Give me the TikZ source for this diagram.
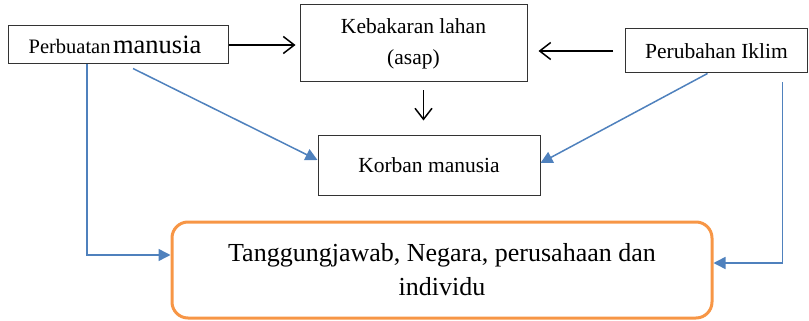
\documentclass[tikz,border=0pt]{standalone}
\usepackage{fontspec}
\setmainfont{Liberation Serif}
\usetikzlibrary{arrows.meta}
\definecolor{lineblue}{HTML}{4F81BD}
\definecolor{boxorange}{HTML}{F79646}
\tikzset{
  kotak/.style = {draw = black!80, line width = 1pt, inner sep = 0pt, align = center},
  tanda/.style = {black, line width = 1.5pt, -{Straight Barb[length = 11pt, width = 17pt]}},
  panah/.style = {lineblue, line width = 1.5pt, -{Triangle[length = 12pt, width = 12pt]}}
}

\begin{document}
\begin{tikzpicture} [x = 1pt, y = -1pt] 
\useasboundingbox (0, 0) rectangle (809, 321);
\node[kotak, minimum width = 220pt, minimum height = 38pt] (perbuatan) at (118, 45)
  {{\fontsize{20.5}{24}\selectfont Perbuatan} {\fontsize{26.5}{30}\selectfont manusia}\hspace*{6pt}};
\node[kotak, font = \fontsize{21.5}{31}\selectfont, minimum width = 227pt, minimum height = 77pt] (kebakaran) at (413.5, 43.5)
  {Kebakaran lahan\\ (asap)};
\node[kotak, font = \fontsize{21.5}{26}\selectfont, minimum width = 182pt, minimum height = 44pt] (perubahan) at (716.5, 51)
  {Perubahan Iklim};
\node[kotak, font = \fontsize{21.5}{26}\selectfont, minimum width = 222pt, minimum height = 60pt] (korban) at (429, 165)
  {Korban manusia};
\node[kotak, draw = boxorange, line width = 3pt, rounded corners = 16pt, font = \fontsize{26}{34}\selectfont,
  minimum width = 540pt, minimum height = 96pt] (tanggung) at (442, 270)
  {Tanggungjawab, Negara, perusahaan dan\\ individu};
\draw[tanda, shorten > = 4pt] (perbuatan.east) -- (kebakaran.west |- perbuatan.east);
\draw[tanda, shorten < = 12pt, shorten > = 11pt] (perubahan.west) -- (kebakaran.east |- perubahan.west);
\draw[tanda, shorten < = 8pt, shorten > = 14pt] ([xshift = 10pt]kebakaran.south) -- ([xshift = 10pt]kebakaran.south |- korban.north);
\draw[panah] ([xshift = 15pt, yshift = -4pt]perbuatan.south) -- ([yshift = 5pt]korban.west);
\draw[panah] ([xshift = -9pt]perubahan.south) -- ([yshift = 2pt]korban.east);
\draw[panah] ([xshift = -31pt]perbuatan.south) |- ([yshift = 15pt]tanggung.west);
\draw[panah] ([xshift = 66pt, yshift = -9pt]perubahan.south) |- ([yshift = 7pt]tanggung.east);
\end{tikzpicture}
\end{document}
